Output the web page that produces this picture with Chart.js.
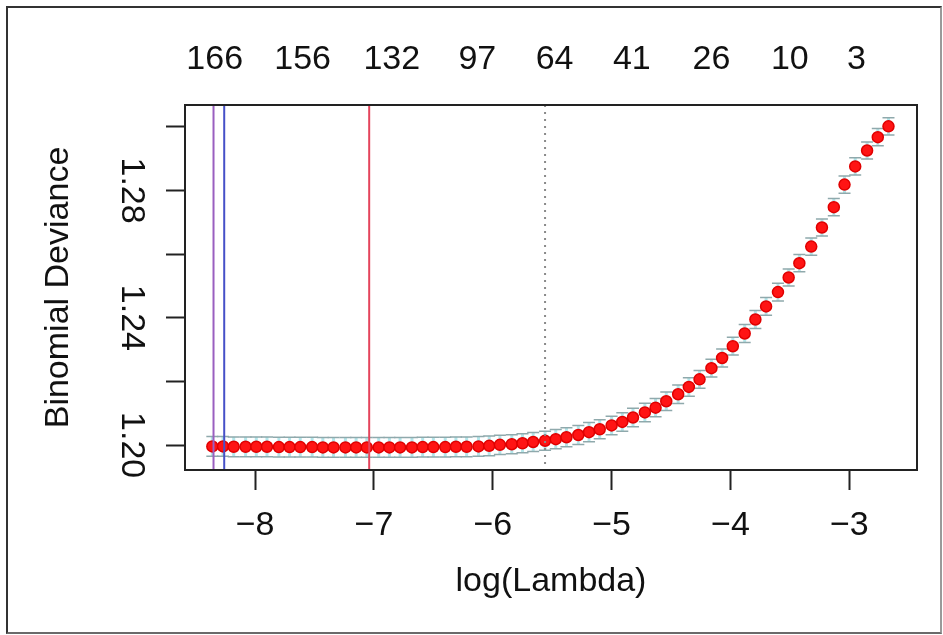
<!DOCTYPE html>
<html>
<head>
<meta charset="utf-8">
<script src="https://cdn.jsdelivr.net/npm/chart.js@4.4.1/dist/chart.umd.min.js"></script>
<style>
  html, body { margin: 0; padding: 0; background: #fff; }
  #wrap { position: relative; width: 943px; height: 635px; }
  #cv { display: block; }
  #frame {
    position: absolute; left: 6px; top: 6px; width: 932px; height: 624px;
    border: 2px solid #333; border-right-color: #9a9a9a; border-bottom-color: #6a6a6a;
    pointer-events: none;
  }
</style>
</head>
<body>
<div id="wrap">
  <canvas id="cv" width="943" height="635"></canvas>
  <div id="frame"></div>
</div>
<script>
// log(lambda) of each fitted model
const logLambda = [
  -8.36, -8.27, -8.18, -8.08, -7.99, -7.90, -7.80, -7.71, -7.62, -7.52,
  -7.43, -7.34, -7.24, -7.15, -7.06, -6.96, -6.87, -6.78, -6.68, -6.59,
  -6.50, -6.40, -6.31, -6.22, -6.12, -6.03, -5.94, -5.84, -5.75, -5.66,
  -5.56, -5.47, -5.38, -5.28, -5.19, -5.10, -5.00, -4.91, -4.82, -4.72,
  -4.63, -4.54, -4.44, -4.35, -4.26, -4.16, -4.07, -3.98, -3.88, -3.79,
  -3.70, -3.60, -3.51, -3.42, -3.32, -3.23, -3.13, -3.04, -2.95, -2.85,
  -2.76, -2.67
];
// mean cross-validated binomial deviance
const cvm = [
  1.1996, 1.1996, 1.1995, 1.1995, 1.1995, 1.1995, 1.1994, 1.1994, 1.1994, 1.1994,
  1.1993, 1.1993, 1.1993, 1.1993, 1.1993, 1.1993, 1.1993, 1.1993, 1.1993, 1.1994,
  1.1994, 1.1994, 1.1995, 1.1995, 1.1996, 1.1998, 1.2001, 1.2003, 1.2006, 1.2010,
  1.2014, 1.2019, 1.2025, 1.2032, 1.2041, 1.2050, 1.2062, 1.2073, 1.2087, 1.2103,
  1.2118, 1.2138, 1.2160, 1.2183, 1.2207, 1.2242, 1.2274, 1.2311, 1.2351, 1.2395,
  1.2436, 1.2481, 1.2527, 1.2572, 1.2624, 1.2684, 1.2748, 1.2819, 1.2876, 1.2926,
  1.2968, 1.3002
];
// standard error of the deviance
const cvsd = [
  0.0031, 0.0031, 0.0031, 0.0031, 0.0031, 0.0031, 0.0031, 0.0031, 0.0031, 0.0031,
  0.0031, 0.0031, 0.0031, 0.0031, 0.0031, 0.0031, 0.0031, 0.0031, 0.0031, 0.0031,
  0.0031, 0.0031, 0.0031, 0.0031, 0.0031, 0.0031, 0.0030, 0.0030, 0.0030, 0.0030,
  0.0030, 0.0030, 0.0030, 0.0030, 0.0030, 0.0030, 0.0029, 0.0029, 0.0029, 0.0029,
  0.0029, 0.0029, 0.0029, 0.0029, 0.0028, 0.0028, 0.0028, 0.0028, 0.0028, 0.0028,
  0.0028, 0.0028, 0.0027, 0.0027, 0.0027, 0.0027, 0.0027, 0.0027, 0.0027, 0.0027,
  0.0027, 0.0027
];

const xTicks = [-8, -7, -6, -5, -4, -3];
const xTickLabels = ['−8', '−7', '−6', '−5', '−4', '−3'];
const yTicks = [1.20, 1.22, 1.24, 1.26, 1.28, 1.30];
const yTickLabels = ['1.20', '', '1.24', '', '1.28', ''];
// number of nonzero coefficients along the top
const topTicks = [-8.34, -7.60, -6.85, -6.13, -5.48, -4.83, -4.16, -3.50, -2.94];
const nonzero = ['166', '156', '132', '97', '64', '41', '26', '10', '3'];
// vertical reference lines (log lambda)
const lambdaLines = [-8.35, -8.26, -7.04, -5.56];

const xMin = -8.59, xMax = -2.43;
const yMin = 1.1922, yMax = 1.3069;

const lineColors = ['#9a5fc0', '#4650c8', '#e4445c', '#8a8a8a'];
const lineDashes = [[], [], [], [2, 5]];
const FONT = { family: 'Liberation Sans, Arial, sans-serif', size: 34 };
const INK = '#111';

const extras = {
    id: 'extras',
    beforeDatasetsDraw(chart) {
        const { ctx, scales: { x, y } } = chart;
        ctx.save();
        logLambda.forEach((v, i) => {
            const px = x.getPixelForValue(v);
            const hi = y.getPixelForValue(cvm[i] + cvsd[i]);
            const lo = y.getPixelForValue(cvm[i] - cvsd[i]);
            ctx.strokeStyle = '#b4e6ea';
            ctx.lineWidth = 3;
            ctx.beginPath();
            ctx.moveTo(px, hi);
            ctx.lineTo(px, lo);
            ctx.stroke();
            ctx.strokeStyle = '#8fa9ac';
            ctx.lineWidth = 1.5;
            ctx.beginPath();
            ctx.moveTo(px - 6, hi); ctx.lineTo(px + 6, hi);
            ctx.moveTo(px - 6, lo); ctx.lineTo(px + 6, lo);
            ctx.stroke();
        });
        ctx.restore();
    },
    afterDatasetsDraw(chart) {
        const { ctx, chartArea, scales: { x } } = chart;
        ctx.save();
        lambdaLines.forEach((v, i) => {
            const px = x.getPixelForValue(v);
            ctx.strokeStyle = lineColors[i];
            ctx.lineWidth = 2;
            ctx.setLineDash(lineDashes[i]);
            ctx.beginPath();
            ctx.moveTo(px, chartArea.top);
            ctx.lineTo(px, chartArea.bottom);
            ctx.stroke();
        });
        ctx.restore();
    },
    afterDraw(chart) {
        const { ctx, chartArea } = chart;
        ctx.save();
        ctx.strokeStyle = '#222';
        ctx.lineWidth = 2;
        ctx.strokeRect(chartArea.left, chartArea.top,
            chartArea.right - chartArea.left, chartArea.bottom - chartArea.top);
        ctx.restore();
    }
};

new Chart(document.getElementById('cv'), {
    type: 'scatter',
    data: {
        datasets: [{
            label: 'Binomial Deviance',
            data: logLambda.map((v, i) => ({ x: v, y: cvm[i] })),
            pointRadius: 5.5,
            pointBorderWidth: 1.5,
            backgroundColor: '#ff1414',
            borderColor: '#e00000'
        }]
    },
    options: {
        responsive: false,
        animation: false,
        devicePixelRatio: 1,
        layout: { padding: { left: 0, right: 26, top: 0, bottom: 0 } },
        plugins: { legend: { display: false }, tooltip: { enabled: false } },
        scales: {
            x: {
                type: 'linear', position: 'bottom', min: xMin, max: xMax,
                afterBuildTicks: s => { s.ticks = xTicks.map(v => ({ value: v })); },
                afterFit: s => { s.height = 165; },
                ticks: {
                    autoSkip: false, maxRotation: 0, padding: 15, color: INK, font: FONT,
                    callback: (v, i) => xTickLabels[i]
                },
                grid: { drawOnChartArea: false, drawTicks: true, tickLength: 20, tickWidth: 2, tickColor: '#222' },
                border: { display: false },
                title: { display: true, text: 'log(Lambda)', color: INK, font: FONT, padding: { top: 0, bottom: 33 } }
            },
            xTop: {
                type: 'linear', axis: 'x', position: 'top', min: xMin, max: xMax,
                afterBuildTicks: s => { s.ticks = topTicks.map(v => ({ value: v })); },
                afterFit: s => { s.height = 105; },
                ticks: {
                    autoSkip: false, maxRotation: 0, padding: 25, color: INK, font: FONT,
                    callback: (v, i) => nonzero[i]
                },
                grid: { display: false, drawTicks: false },
                border: { display: false }
            },
            y: {
                type: 'linear', position: 'left', min: yMin, max: yMax,
                afterBuildTicks: s => { s.ticks = yTicks.map(v => ({ value: v })); },
                afterFit: s => { s.width = 185; },
                ticks: {
                    autoSkip: false, minRotation: -90, maxRotation: -90, crossAlign: 'center',
                    padding: 2, color: INK, font: FONT,
                    callback: (v, i) => yTickLabels[i]
                },
                grid: { drawOnChartArea: false, drawTicks: true, tickLength: 19, tickWidth: 2, tickColor: '#222' },
                border: { display: false },
                title: { display: true, text: 'Binomial Deviance', color: INK, font: FONT, padding: { top: 38, bottom: 0 } }
            }
        }
    },
    plugins: [extras]
});
</script>
</body>
</html>
